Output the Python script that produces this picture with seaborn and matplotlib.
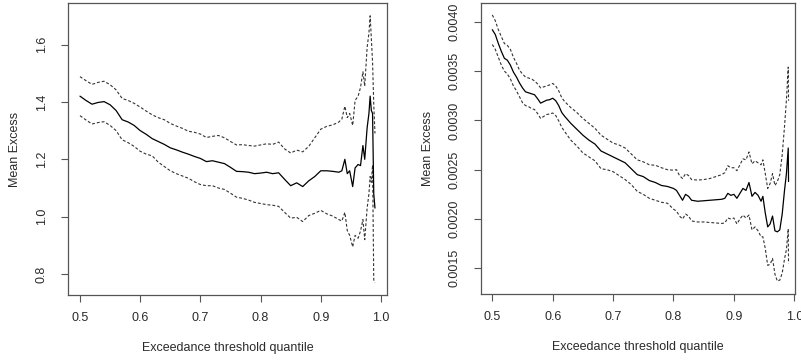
import matplotlib
matplotlib.use("Agg")
import matplotlib.pyplot as plt
import pandas as pd
import seaborn as sns

# Mean excess over the exceedance-threshold quantile, with confidence bands
left_q = [0.50, 0.51, 0.52, 0.53, 0.54, 0.55, 0.56, 0.57, 0.58, 0.59,
          0.60, 0.61, 0.62, 0.63, 0.64, 0.65, 0.66, 0.67, 0.68, 0.69,
          0.70, 0.71, 0.72, 0.73, 0.74, 0.75, 0.76, 0.77, 0.78, 0.79,
          0.80, 0.81, 0.82, 0.83, 0.84, 0.85, 0.86, 0.87, 0.88, 0.89,
          0.90, 0.91, 0.92, 0.93, 0.935, 0.940, 0.944, 0.948, 0.953, 0.957,
          0.962, 0.966, 0.970, 0.973, 0.977, 0.980, 0.982, 0.984, 0.986, 0.988,
          0.990]
left_me = [1.420, 1.405, 1.392, 1.398, 1.401, 1.390, 1.370, 1.338, 1.330, 1.318,
           1.300, 1.287, 1.272, 1.262, 1.252, 1.240, 1.233, 1.225, 1.218, 1.210,
           1.203, 1.192, 1.195, 1.190, 1.185, 1.172, 1.158, 1.157, 1.155, 1.150,
           1.152, 1.155, 1.150, 1.153, 1.130, 1.108, 1.118, 1.105, 1.125, 1.140,
           1.160, 1.160, 1.158, 1.155, 1.160, 1.200, 1.150, 1.160, 1.105, 1.170,
           1.182, 1.178, 1.248, 1.200, 1.310, 1.360, 1.420, 1.370, 1.360, 1.080,
           1.030]
left_upper = [1.488, 1.474, 1.461, 1.468, 1.472, 1.460, 1.442, 1.412, 1.405, 1.395,
              1.382, 1.368, 1.355, 1.345, 1.338, 1.325, 1.316, 1.308, 1.298, 1.294,
              1.288, 1.276, 1.280, 1.283, 1.275, 1.262, 1.250, 1.251, 1.248, 1.246,
              1.250, 1.254, 1.252, 1.260, 1.236, 1.222, 1.232, 1.226, 1.245, 1.275,
              1.305, 1.315, 1.320, 1.330, 1.340, 1.385, 1.345, 1.360, 1.318, 1.405,
              1.420, 1.450, 1.505, 1.455, 1.590, 1.640, 1.700, 1.620, 1.540, 1.390,
              1.290]
left_lower = [1.352, 1.337, 1.323, 1.328, 1.331, 1.318, 1.300, 1.268, 1.258, 1.245,
              1.228, 1.218, 1.212, 1.190, 1.175, 1.160, 1.150, 1.142, 1.134, 1.122,
              1.112, 1.108, 1.108, 1.100, 1.095, 1.082, 1.068, 1.064, 1.058, 1.050,
              1.046, 1.042, 1.040, 1.036, 1.015, 0.995, 0.998, 0.983, 1.004, 1.012,
              1.022, 1.010, 1.002, 0.990, 0.985, 1.015, 0.952, 0.935, 0.895, 0.935,
              0.925, 0.950, 0.990, 0.920, 1.030, 1.080, 1.140, 1.120, 1.180, 0.780,
              0.770]

right_q = [0.500, 0.505, 0.510, 0.515, 0.520, 0.525, 0.530, 0.535, 0.540, 0.545,
           0.550, 0.555, 0.560, 0.565, 0.570, 0.575, 0.580, 0.585, 0.590, 0.595,
           0.600, 0.605, 0.610, 0.615, 0.620, 0.630, 0.640, 0.650, 0.660, 0.670,
           0.680, 0.690, 0.700, 0.710, 0.720, 0.730, 0.740, 0.750, 0.760, 0.770,
           0.780, 0.790, 0.800, 0.805, 0.810, 0.815, 0.820, 0.825, 0.830, 0.840,
           0.850, 0.860, 0.870, 0.880, 0.885, 0.890, 0.895, 0.900, 0.905, 0.910,
           0.915, 0.920, 0.925, 0.930, 0.935, 0.940, 0.945, 0.948, 0.952, 0.956,
           0.960, 0.964, 0.968, 0.972, 0.976, 0.980, 0.984, 0.987, 0.990, 0.9905]
right_me = [0.003920, 0.003870, 0.003780, 0.003700, 0.003630, 0.003610, 0.003560, 0.003490, 0.003440, 0.003380,
            0.003330, 0.003290, 0.003280, 0.003270, 0.003260, 0.003220, 0.003175, 0.003190, 0.003205, 0.003210,
            0.003225, 0.003200, 0.003150, 0.003080, 0.003040, 0.002970, 0.002910, 0.002850, 0.002800, 0.002760,
            0.002690, 0.002660, 0.002630, 0.002600, 0.002570, 0.002510, 0.002450, 0.002430, 0.002390, 0.002370,
            0.002340, 0.002330, 0.002310, 0.002290, 0.002240, 0.002190, 0.002250, 0.002230, 0.002190, 0.002180,
            0.002185, 0.002190, 0.002195, 0.002200, 0.002210, 0.002260, 0.002240, 0.002250, 0.002210, 0.002260,
            0.002310, 0.002290, 0.002370, 0.002230, 0.002270, 0.002240, 0.002180, 0.002230, 0.002060, 0.001920,
            0.001950, 0.002030, 0.001880, 0.001870, 0.001890, 0.002050, 0.002300, 0.002460, 0.002720, 0.002380]
right_upper = [0.004070, 0.004010, 0.003920, 0.003850, 0.003780, 0.003760, 0.003720, 0.003640, 0.003580, 0.003510,
               0.003470, 0.003440, 0.003430, 0.003420, 0.003400, 0.003370, 0.003330, 0.003340, 0.003350, 0.003360,
               0.003375, 0.003350, 0.003300, 0.003230, 0.003190, 0.003130, 0.003080, 0.003020, 0.002970, 0.002920,
               0.002850, 0.002810, 0.002770, 0.002750, 0.002720, 0.002660, 0.002600, 0.002580, 0.002550, 0.002545,
               0.002520, 0.002500, 0.002495, 0.002500, 0.002440, 0.002410, 0.002460, 0.002440, 0.002400, 0.002395,
               0.002400, 0.002410, 0.002430, 0.002450, 0.002470, 0.002540, 0.002520, 0.002520, 0.002490, 0.002550,
               0.002610, 0.002600, 0.002680, 0.002560, 0.002590, 0.002570, 0.002550, 0.002600, 0.002460, 0.002310,
               0.002360, 0.002460, 0.002340, 0.002380, 0.002450, 0.002650, 0.002950, 0.003210, 0.003540, 0.003200]
right_lower = [0.003770, 0.003720, 0.003640, 0.003560, 0.003500, 0.003470, 0.003420, 0.003350, 0.003300, 0.003240,
               0.003180, 0.003150, 0.003140, 0.003120, 0.003110, 0.003070, 0.003020, 0.003040, 0.003060, 0.003065,
               0.003075, 0.003050, 0.002995, 0.002930, 0.002885, 0.002800, 0.002740, 0.002670, 0.002630, 0.002590,
               0.002510, 0.002500, 0.002480, 0.002440, 0.002400, 0.002350, 0.002280, 0.002250, 0.002210, 0.002190,
               0.002170, 0.002160, 0.002100, 0.002080, 0.002030, 0.002000, 0.002050, 0.002030, 0.001980, 0.001970,
               0.001970, 0.001965, 0.001960, 0.001955, 0.001960, 0.002010, 0.002000, 0.002010, 0.001950, 0.002000,
               0.002040, 0.002010, 0.002040, 0.001890, 0.001920, 0.001880, 0.001820, 0.001820, 0.001700, 0.001530,
               0.001540, 0.001600, 0.001440, 0.001370, 0.001380, 0.001450, 0.001600, 0.001690, 0.001900, 0.001550]

x_ticks = [0.5, 0.6, 0.7, 0.8, 0.9, 1.0]
left_y_ticks = [0.8, 1.0, 1.2, 1.4, 1.6]
right_y_ticks = [0.0015, 0.0020, 0.0025, 0.0030, 0.0035, 0.0040]

sns.set_theme(style="ticks")
plt.rcParams["font.family"] = ["Liberation Sans", "DejaVu Sans"]
plt.rcParams["font.size"] = 9

TEXT = "#2b2b2b"
EDGE = "#555555"

fig = plt.figure(figsize=(8.01, 3.62), dpi=100)
ax_l = fig.add_axes([68 / 801, 67 / 362, 319 / 801, 292 / 362])
ax_r = fig.add_axes([481 / 801, 68 / 362, 314 / 801, 291 / 362])


def draw_panel(ax, q, me, upper, lower, xlim, ylim, yticks, yfmt, ylab_x):
    df = pd.DataFrame({"q": q, "me": me, "upper": upper, "lower": lower})
    for col in ("upper", "lower"):
        sns.lineplot(data=df, x="q", y=col, ax=ax, color="#333333", lw=0.8,
                     linestyle=(0, (2.6, 1.8)), estimator=None, sort=False)
    sns.lineplot(data=df, x="q", y="me", ax=ax, color="black", lw=0.9,
                 estimator=None, sort=False)
    ax.set_xlim(*xlim)
    ax.set_ylim(*ylim)
    ax.set_xticks(x_ticks)
    ax.set_xticklabels([f"{t:.1f}" for t in x_ticks])
    ax.set_yticks(yticks)
    ax.set_yticklabels([yfmt.format(t) for t in yticks])
    for side in ("top", "right", "bottom", "left"):
        ax.spines[side].set_visible(True)
        ax.spines[side].set_color(EDGE)
        ax.spines[side].set_linewidth(0.9)
    ax.tick_params(axis="both", direction="out", length=5, width=0.8,
                   color=EDGE, labelcolor=TEXT, labelsize=9)
    ax.tick_params(axis="x", pad=7)
    ax.tick_params(axis="y", pad=14)
    plt.setp(ax.get_yticklabels(), rotation=90, ha="center", va="center")
    ax.set_xlabel("Exceedance threshold quantile", color=TEXT, fontsize=9, va="center")
    ax.set_ylabel("Mean Excess", color=TEXT, fontsize=9, va="center")
    ax.xaxis.set_label_coords(0.5, -53 / 292)
    ax.yaxis.set_label_coords(ylab_x, 0.5)
    ax.grid(False)


draw_panel(ax_l, left_q, left_me, left_upper, left_lower,
           (0.4801, 1.0100), (0.7272, 1.7446), left_y_ticks, "{:.1f}", -53 / 319)
draw_panel(ax_r, right_q, right_me, right_upper, right_lower,
           (0.4813, 1.0012), (0.0012394, 0.0041907), right_y_ticks, "{:.4f}", -53 / 314)

fig.savefig("out.png", dpi=100, facecolor="white")
